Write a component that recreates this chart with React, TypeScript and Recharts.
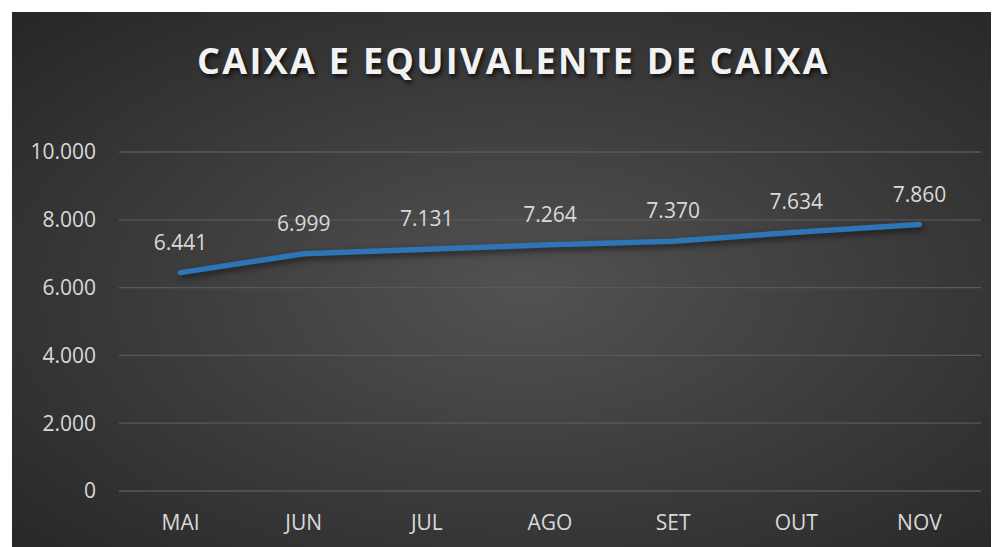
import React from 'react';
import { LineChart, Line, XAxis, YAxis, CartesianGrid, LabelList } from 'recharts';

const months = ['MAI', 'JUN', 'JUL', 'AGO', 'SET', 'OUT', 'NOV'];
const caixa = [6441, 6999, 7131, 7264, 7370, 7634, 7860];
const yTicks = [0, 2000, 4000, 6000, 8000, 10000];
const title = 'CAIXA E EQUIVALENTE DE CAIXA';

const data = months.map((m, i) => ({ month: m, value: caixa[i] }));

const fmt = (v: number) => v.toLocaleString('pt-BR');

const FONT = '"Open Sans", sans-serif';
const TXT = '#d9d9d9';

export default function App() {
  return (
    <div
      style={{
        margin: 4,
        width: 987,
        height: 535,
        position: 'relative',
        background: 'radial-gradient(ellipse at 52% 52%, #525252 0%, #3e3e3e 45%, #262626 100%)',
        fontFamily: FONT,
      }}
    >
      <style>{`.recharts-line-curve { filter: drop-shadow(2px 3px 3px rgba(0,0,0,0.55)); }`}</style>
      <div
        style={{
          position: 'absolute',
          top: 25,
          left: 8,
          width: 987,
          textAlign: 'center',
          color: '#f2f2f2',
          fontSize: 36,
          fontWeight: 700,
          letterSpacing: 2.3,
          fontFamily: FONT,
          textShadow: '2px 3px 4px rgba(0,0,0,0.7)',
          lineHeight: '48px',
        }}
      >
        {title}
      </div>
      <LineChart
        width={987}
        height={535}
        data={data}
        margin={{ top: 140, right: 18, bottom: 0, left: 0 }}
      >
        <CartesianGrid vertical={false} stroke="#595959" strokeWidth={1.3} />
        <XAxis
          dataKey="month"
          scale="band"
          axisLine={false}
          tickLine={false}
          tickSize={0}
          tickMargin={24}
          height={56}
          tick={{ fill: TXT, fontSize: 21, fontFamily: FONT }}
        />
        <YAxis
          domain={[0, 10000]}
          ticks={yTicks}
          width={107}
          axisLine={false}
          tickLine={false}
          tickSize={0}
          tickMargin={23}
          tickFormatter={fmt}
          tick={{ fill: TXT, fontSize: 21, fontFamily: FONT }}
        />
        <Line
          type="linear"
          dataKey="value"
          stroke="#2E75B6"
          strokeWidth={5.5}
          strokeLinecap="round"
          strokeLinejoin="round"
          dot={false}
          activeDot={false}
          isAnimationActive={false}
        >
          <LabelList
            dataKey="value"
            position="top"
            offset={23}
            formatter={(v: number) => fmt(v)}
            style={{ fill: TXT, fontSize: 21, fontFamily: FONT }}
          />
        </Line>
      </LineChart>
    </div>
  );
}
